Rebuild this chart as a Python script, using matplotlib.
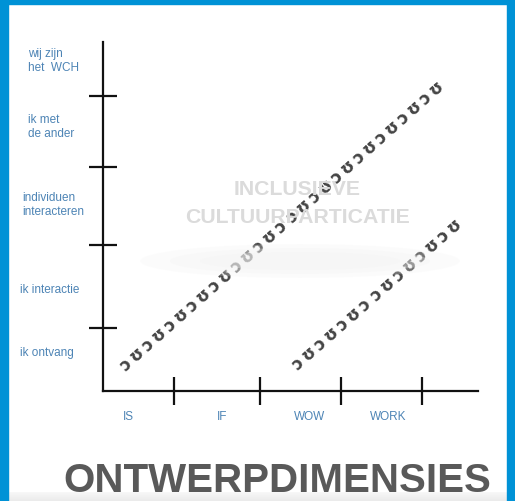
import numpy as np
import matplotlib
matplotlib.use("Agg")
import matplotlib.pyplot as plt
from matplotlib.patches import Rectangle, Ellipse
from matplotlib.transforms import blended_transform_factory

# niveaus (y) en dimensies (x)
y_levels = ["ik ontvang", "ik interactie", "individuen\ninteracteren",
            "ik met\nde ander", "wij zijn\nhet  WCH"]
y_level_pos = [0.52, 1.36, 2.49, 3.53, 4.41]
y_level_px = [20, 20, 22, 28, 28]  # linkerrand van elk label
y_bounds = [0.84, 1.95, 2.99, 3.93]

x_dims = ["IS", "IF", "WOW", "WORK"]
x_dim_pos = [0.31, 1.47, 2.55, 3.52]
x_bounds = [0.88, 1.94, 2.94, 3.94]

# diagonale reeksen (begin- en eindpunt)
diag_a_start, diag_a_end = (0.25, 0.32), (4.18, 4.09)
diag_b_start, diag_b_end = (2.44, 0.40), (4.33, 2.19)
diag_a_glyphs = ["ɔʊɔʊɔʊɔʊɔʊɔʊɔʊɔ", "ɔʊɔʊɔʊɔʊɔʊɔʊɔʊ"]
diag_b_glyphs = ["ɔʊɔʊɔʊɔ", "ɔʊɔʊɔʊɔʊ"]

watermark = ["INCLUSIEVE", "CULTUURPARTICATIE"]
title = "ONTWERPDIMENSIES"

W, H = 515, 502
fig = plt.figure(figsize=(W / 100, H / 100), dpi=100)
fig.patch.set_facecolor("white")

blue = "#0092D6"
label_col = "#4d84b5"
font = "Liberation Sans"

# blauwe rand
fig.patches.append(Rectangle((0, 0), 8 / W, 1, transform=fig.transFigure, color=blue, zorder=0))
fig.patches.append(Rectangle((1 - 8 / W, 0), 8 / W, 1, transform=fig.transFigure, color=blue, zorder=0))
fig.patches.append(Rectangle((0, 1 - 5 / H), 1, 5 / H, transform=fig.transFigure, color=blue, zorder=0))

# zachte schaduw
for i, a in enumerate([0.25, 0.3, 0.35]):
    fig.patches.append(Ellipse((300 / W, 1 - 262 / H), (320 - 60 * i) / W, (34 - 8 * i) / H,
                               transform=fig.transFigure, color="#f3f3f3", alpha=a, lw=0, zorder=0))

# grijze onderrand
gax = fig.add_axes([8 / W, 0, 1 - 16 / W, 9 / H])
gax.imshow(np.linspace(0.97, 0.92, 20).reshape(-1, 1), cmap="gray", vmin=0, vmax=1,
           aspect="auto", extent=[0, 1, 0, 1])
gax.axis("off")

ax = fig.add_axes([103 / W, (H - 392) / H, (478 - 103) / W, (392 - 43) / H])
ax.set_facecolor("none")
ax.set_xlim(0, 4.63)
ax.set_ylim(0, 4.65)
for s in ["top", "right"]:
    ax.spines[s].set_visible(False)
for s in ["left", "bottom"]:
    ax.spines[s].set_linewidth(1.6)
    ax.spines[s].set_color("#111111")

ax.set_xticks(x_bounds)
ax.set_yticks(y_bounds)
ax.set_xticklabels([])
ax.set_yticklabels([])
ax.tick_params(which="major", direction="inout", length=20.5, width=1.6, color="#111111")

ax.set_xticks(x_dim_pos, minor=True)
ax.set_xticklabels(x_dims, minor=True, fontsize=8.5, color=label_col, fontfamily=font)
ax.tick_params(which="minor", length=0)
ax.tick_params(axis="x", which="minor", pad=14)

ytrans = blended_transform_factory(fig.transFigure, ax.transData)
for lab, yv, px in zip(y_levels, y_level_pos, y_level_px):
    ax.text(px / W, yv, lab, transform=ytrans, ha="left", va="center", fontsize=8.5,
            color=label_col, fontfamily=font, linespacing=1.25)

# watermerk
fig.text(297 / W, 1 - 195 / H, watermark[0], ha="center", va="baseline", fontsize=15.3,
         fontweight="bold", color="#dbdbdb", fontfamily=font, zorder=1)
fig.text(297 / W, 1 - 223 / H, watermark[1], ha="center", va="baseline", fontsize=15.3,
         fontweight="bold", color="#dbdbdb", fontfamily=font, zorder=1)


def diag(start, end, groups):
    txt = " ".join("\u2009".join(g) for g in groups)
    p0 = ax.transData.transform(start)
    p1 = ax.transData.transform(end)
    ang = np.degrees(np.arctan2(p1[1] - p0[1], p1[0] - p0[0]))
    mid = ((start[0] + end[0]) / 2, (start[1] + end[1]) / 2)
    ax.text(mid[0], mid[1], txt, rotation=ang, rotation_mode="anchor", ha="center", va="center",
            fontsize=12, fontweight="bold", color="#454545", fontfamily="DejaVu Sans",
            clip_on=False, zorder=3)


diag(diag_a_start, diag_a_end, diag_a_glyphs)
diag(diag_b_start, diag_b_end, diag_b_glyphs)

fig.text(277 / W, 1 - 492 / H, title, ha="center", va="baseline", fontsize=29,
         fontweight="bold", color="#595959", fontfamily=font)

fig.savefig("out.png", dpi=100, facecolor="white")
